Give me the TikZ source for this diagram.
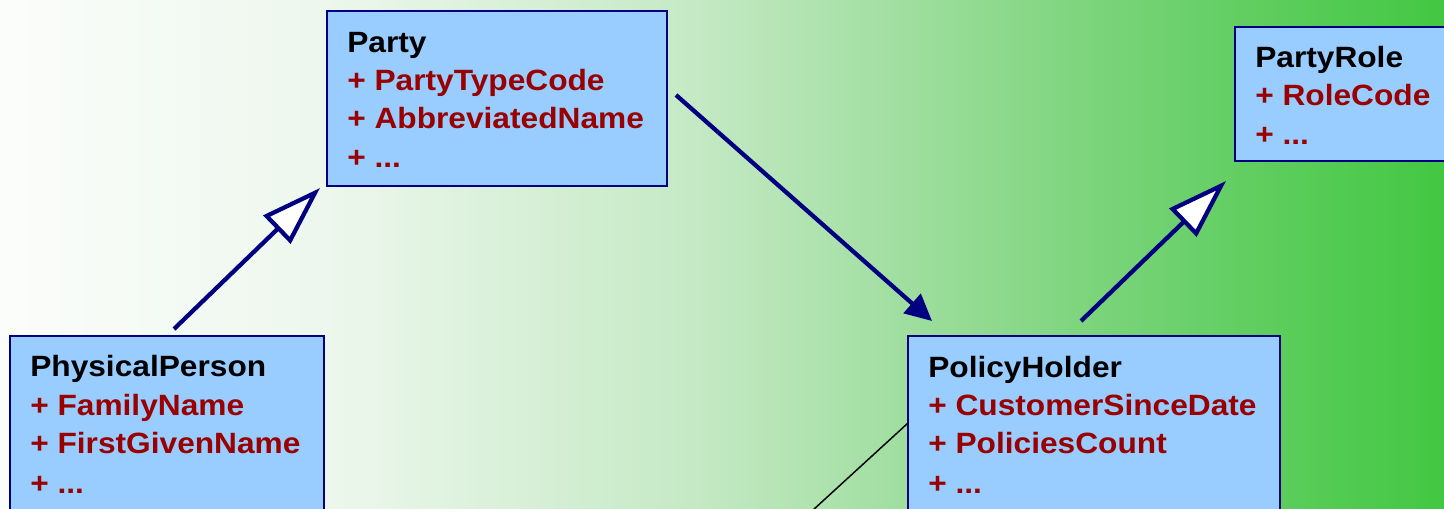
\documentclass[tikz,border=0pt]{standalone}
\usepackage{fontspec}
\newfontfamily\umlfont{Liberation Sans}[FakeStretch=1.08]
\usetikzlibrary{arrows.meta}
\definecolor{boxfill}{HTML}{99CCFF}
\definecolor{navyline}{HTML}{000080}
\definecolor{attrred}{HTML}{990000}
\definecolor{g0}{HTML}{FBFDFB}
\definecolor{g1}{HTML}{EDF7ED}
\definecolor{g2}{HTML}{C4E9C4}
\definecolor{g3}{HTML}{A0DEA0}
\definecolor{g4}{HTML}{7AD47A}
\definecolor{g5}{HTML}{58CC58}
\definecolor{g6}{HTML}{42C842}
\pgfdeclarehorizontalshading{bgshade}{100bp}{color(0bp)=(g0); color(25bp)=(g0); color(36.4bp)=(g1); color(49.2bp)=(g2); color(56.2bp)=(g3); color(63.1bp)=(g4); color(70bp)=(g5); color(75bp)=(g6); color(100bp)=(g6)}
\tikzset{
  umlbox/.style={draw=navyline, line width=1.5pt, fill=boxfill, anchor=north west, inner sep=0pt, outer sep=0pt},
  titletext/.style={anchor=base west, inner sep=0pt, font=\umlfont\bfseries\fontsize{22pt}{26pt}\selectfont, text=black},
  attrtext/.style={titletext, text=attrred},
  inherit/.style={draw=navyline, line width=3.2pt, -{Triangle[length=45pt, width=29pt, fill=white]}},
  assoc/.style={draw=navyline, line width=3.2pt, -{Triangle[length=20pt, width=19pt]}},
  thinlink/.style={draw=black, line width=1.1pt}
}
\begin{document}
\begin{tikzpicture}[x=0.75pt,y=-0.75pt]
\useasboundingbox (0,0) rectangle (1444,508);
\clip (0,0) rectangle (1444,508);
\shade[shading=bgshade] (0,0) rectangle (1444,508);
% boxes
\node[umlbox, minimum width=255pt, minimum height=131.25pt] (party) at (327,11) {};
\node[umlbox, minimum width=168.75pt, minimum height=100.5pt] (partyrole) at (1235,27) {};
\node[umlbox, minimum width=235.5pt, minimum height=138pt] (physical) at (10,336) {};
\node[umlbox, minimum width=279pt, minimum height=138pt] (holder) at (908,336) {};
% Party text
\node[titletext] (p1) at (347,52) {Party};
\node[attrtext] (p2) at (347,90) {+ PartyTypeCode};
\node[attrtext] (p3) at (347,128.5) {+ AbbreviatedName};
\node[attrtext] (p4) at (347,167) {+ ...};
% PartyRole text
\node[titletext] (r1) at (1255,67) {PartyRole};
\node[attrtext] (r2) at (1255,105) {+ RoleCode};
\node[attrtext] (r3) at (1255,144) {+ ...};
% PhysicalPerson text
\node[titletext] (f1) at (30,376) {PhysicalPerson};
\node[attrtext] (f2) at (30,415) {+ FamilyName};
\node[attrtext] (f3) at (30,453) {+ FirstGivenName};
\node[attrtext] (f4) at (30,493) {+ ...};
% PolicyHolder text
\node[titletext] (h1) at (928,377) {PolicyHolder};
\node[attrtext] (h2) at (928,415) {+ CustomerSinceDate};
\node[attrtext] (h3) at (928,453) {+ PoliciesCount};
\node[attrtext] (h4) at (928,493) {+ ...};
% connector ends
\coordinate (physStart) at (174,329);
\coordinate (partyTip) at (320,188);
\coordinate (partyOut) at (676,95);
\coordinate (holderIn) at (932,321);
\coordinate (holderOut) at (1081,321);
\coordinate (roleTip) at (1226,181);
\coordinate (holderLeft) at (908,423);
\coordinate (linkEnd) at (801,521);
% connectors
\draw[inherit] (physStart) -- (partyTip);
\draw[assoc] (partyOut) -- (holderIn);
\draw[inherit] (holderOut) -- (roleTip);
\draw[thinlink] (holderLeft) -- (linkEnd);
\end{tikzpicture}
\end{document}
